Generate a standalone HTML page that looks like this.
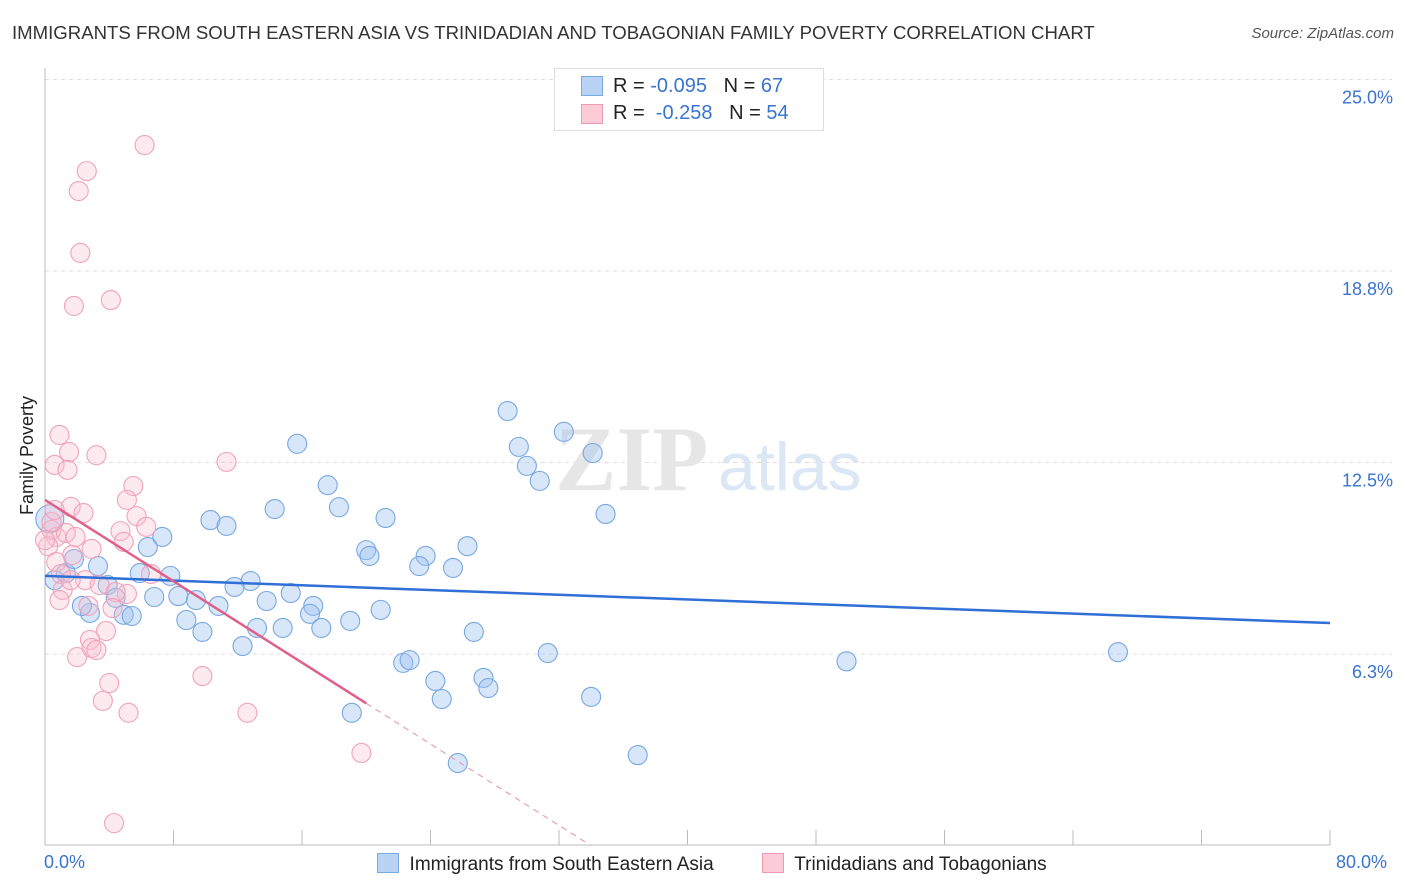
<!DOCTYPE html>
<html><head><meta charset="utf-8"><style>
body{margin:0;background:#fff;font-family:"Liberation Sans",sans-serif;}
#wrap{position:relative;width:1406px;height:892px;overflow:hidden}
.t{position:absolute;white-space:nowrap}
</style></head><body>
<div id="wrap">
<div class="t" style="left:12px;top:22px;font-size:18.6px;color:#333">IMMIGRANTS FROM SOUTH EASTERN ASIA VS TRINIDADIAN AND TOBAGONIAN FAMILY POVERTY CORRELATION CHART</div>
<div class="t" style="right:12px;top:25px;font-size:15px;color:#555;font-style:italic">Source: ZipAtlas.com</div>
<svg id="svg" width="1406" height="892" style="position:absolute;left:0;top:0"></svg>
</div>
<script>
const yTicks=[25.0,18.75,12.5,6.25];
const yTickLabels=["25.0%","18.8%","12.5%","6.3%"];
const blueX=[28.8,29.5,32.3,34.1,30.0,30.8,15.7,17.6,18.3,14.3,10.3,11.3,21.2,34.9,7.3,6.4,20.0,20.2,23.7,26.3,23.3,25.4,3.3,1.3,0.6,5.9,7.8,12.8,11.8,3.9,6.8,8.3,9.4,10.8,13.8,15.3,16.7,16.5,20.9,19.0,4.4,2.8,4.9,5.4,8.8,9.8,13.2,14.8,17.2,26.7,12.3,31.3,22.3,22.7,24.3,27.3,27.6,24.7,34.0,19.1,25.7,36.9,49.9,66.8,2.3,1.8,0.3];
const blueY=[14.18,13.01,13.50,12.81,12.39,11.90,13.11,11.76,11.04,10.98,10.62,10.43,10.69,10.82,10.07,9.74,9.64,9.45,9.45,9.77,9.12,9.06,9.12,8.89,8.66,8.89,8.80,8.63,8.44,8.50,8.11,8.14,8.01,7.82,7.98,8.24,7.82,7.56,7.69,7.33,8.08,7.59,7.53,7.49,7.36,6.97,7.10,7.10,7.10,6.97,6.51,6.28,5.96,6.05,5.37,5.47,5.14,4.78,4.85,4.33,2.69,2.95,6.01,6.31,7.82,9.35,10.66];
const pinkX=[6.2,2.6,2.1,2.2,4.1,1.8,0.9,0.6,1.5,1.4,3.2,11.3,5.5,5.1,1.6,2.4,5.7,6.3,4.7,0.4,0.7,1.3,1.9,0.2,4.9,2.9,1.7,0.7,6.6,1.0,2.5,3.4,5.1,4.4,1.1,4.2,2.7,3.8,2.8,2.9,3.2,2.0,9.8,4.0,3.6,5.2,12.6,19.7,4.3,0.4,0.9,0.0,1.6,0.6];
const pinkY=[22.86,22.01,21.36,19.34,17.80,17.61,13.40,12.42,12.84,12.26,12.74,12.52,11.73,11.28,11.05,10.85,10.75,10.40,10.26,10.30,10.07,10.20,10.07,9.77,9.91,9.68,9.48,9.25,8.86,8.86,8.66,8.50,8.21,8.27,8.34,7.75,7.82,7.00,6.71,6.45,6.38,6.15,5.53,5.30,4.72,4.33,4.33,3.02,0.73,10.56,8.01,9.97,8.66,10.95];
const blueTrend=[8.80,7.26];
const pinkTrend=[11.28,-0.332];
const pinkSolidEnd=20.0;

const X=v=>45+v/80*1285;
const Y=v=>845.5-v/6.25*191.5;
const svg=document.getElementById('svg');const NS='http://www.w3.org/2000/svg';
function mk(tag,attrs,name){const e=document.createElementNS(NS,tag);for(const k in attrs)e.setAttribute(k,attrs[k]);


svg.appendChild(e);return e;}
yTicks.forEach((t,i)=>{mk('line',{x1:45,x2:1392,y1:Y(t),y2:Y(t),stroke:'#ddd','stroke-dasharray':'4,4'},'gridline');
const tx=mk('text',{x:1393,y:Y(t)+24,'text-anchor':'end','font-size':18,fill:'#3a74d0','font-family':'Liberation Sans'},'y-tick-label');tx.textContent=yTickLabels[i];});
mk('line',{x1:45,x2:45,y1:68,y2:845,stroke:'#bbb'},'y-axis');
mk('line',{x1:45,x2:1330,y1:845,y2:845,stroke:'#bbb'},'x-axis');
for(let i=0;i<=10;i++)mk('line',{x1:X(i*8),x2:X(i*8),y1:830,y2:845,stroke:'#bbb'},'x-tick');
const wm=mk('text',{x:555,y:490,'font-size':92,fill:'#e6e6e6','font-family':'Liberation Serif','font-weight':'bold'},'watermark-zip');wm.textContent='ZIP';
const wm2=mk('text',{x:718,y:490,'font-size':68,fill:'#dce7f5','font-family':'Liberation Sans'},'watermark-atlas');wm2.textContent='atlas';
blueX.forEach((v,i)=>mk('circle',{cx:X(v),cy:Y(blueY[i]),r:i==blueX.length-1?14:9.5,fill:'rgba(160,196,240,0.42)',stroke:'#78a8e2','stroke-width':1.1},'blue-point'));
pinkX.forEach((v,i)=>mk('circle',{cx:X(v),cy:Y(pinkY[i]),r:9.5,fill:'rgba(248,190,205,0.32)',stroke:'#f0a2ba','stroke-width':1.1},'pink-point'));
mk('line',{x1:X(0),y1:Y(blueTrend[0]),x2:X(80),y2:Y(blueTrend[1]),stroke:'#2f6fd6','stroke-width':2.5},'blue-trend-line');
mk('line',{x1:X(0),y1:Y(pinkTrend[0]),x2:X(pinkSolidEnd),y2:Y(pinkTrend[0]+pinkTrend[1]*pinkSolidEnd),stroke:'#e0608a','stroke-width':2.5},'pink-trend-line');
const xz=-pinkTrend[0]/pinkTrend[1];
mk('line',{x1:X(pinkSolidEnd),y1:Y(pinkTrend[0]+pinkTrend[1]*pinkSolidEnd),x2:X(xz),y2:Y(0),stroke:'#e8a0b8','stroke-width':1.2,'stroke-dasharray':'6,5'},'pink-trend-extension');
</script>
<div class="t" style="left:-32px;top:445px;font-size:18px;color:#222;transform:rotate(-90deg)">Family Poverty</div>
<div class="t" style="left:44px;top:852px;font-size:18px;color:#3a74d0">0.0%</div>
<div class="t" style="left:1336px;top:852px;font-size:18px;color:#3a74d0">80.0%</div>
<div style="position:absolute;left:554px;top:68px;width:268px;height:61px;border:1px solid #ddd;background:#fff;font-size:20px">
<div style="position:absolute;left:26px;top:7px;width:20px;height:18px;background:#b9d3f5;border:1px solid #7aa8e0"></div>
<div class="t" style="left:58px;top:6px;color:#222">R = <span style="color:#3a74d0">-0.095</span>&nbsp;&nbsp;&nbsp;N = <span style="color:#3a74d0">67</span></div>
<div style="position:absolute;left:26px;top:35px;width:20px;height:18px;background:#fccbd8;border:1px solid #ef9ab4"></div>
<div class="t" style="left:58px;top:33px;color:#222">R = &nbsp;<span style="color:#3a74d0">-0.258</span>&nbsp;&nbsp;&nbsp;N = <span style="color:#3a74d0">54</span></div>
</div>
<div style="position:absolute;left:377px;top:853px;font-size:19px;color:#222">
<span style="display:inline-block;width:20px;height:18px;background:#b9d3f5;border:1px solid #7aa8e0;vertical-align:-3px"></span>&nbsp; Immigrants from South Eastern Asia</div>
<div style="position:absolute;left:762px;top:853px;font-size:19px;color:#222">
<span style="display:inline-block;width:20px;height:18px;background:#fccbd8;border:1px solid #ef9ab4;vertical-align:-3px"></span>&nbsp; Trinidadians and Tobagonians</div>
</body></html>
